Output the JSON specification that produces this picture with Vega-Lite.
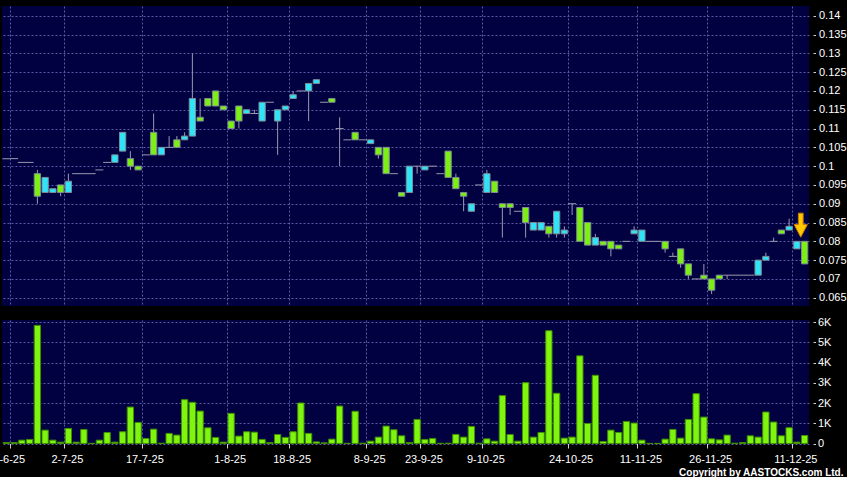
{
  "$schema": "https://vega.github.io/schema/vega-lite/v6.json",
  "background": "#000000",
  "padding": {"left": -14, "top": 6, "right": 0, "bottom": 0},
  "bounds": "flush",
  "spacing": 14,
  "config": {
    "view": {"fill": "#010142", "stroke": null},
    "axis": {
      "gridColor": "#5a5aa6",
      "gridDash": [2, 2],
      "gridWidth": 1,
      "labelColor": "#ffffff",
      "labelFont": "Liberation Sans",
      "labelFontSize": 11,
      "tickColor": "#d0d0d0",
      "domain": false,
      "labelOverlap": false
    }
  },
  "data": {
    "values": [
      {"d": "16-6-25", "o": 0.102, "h": 0.102, "l": 0.102, "c": 0.102, "v": 50},
      {"d": "17-6-25", "o": 0.102, "h": 0.102, "l": 0.102, "c": 0.102, "v": 50},
      {"d": "19-6-25", "o": 0.101, "h": 0.101, "l": 0.101, "c": 0.101, "v": 165},
      {"d": "20-6-25", "o": 0.101, "h": 0.101, "l": 0.101, "c": 0.101, "v": 200},
      {"d": "23-6-25", "o": 0.098, "h": 0.099, "l": 0.090, "c": 0.092, "v": 5835},
      {"d": "25-6-25", "o": 0.093, "h": 0.097, "l": 0.093, "c": 0.097, "v": 660},
      {"d": "26-6-25", "o": 0.093, "h": 0.094, "l": 0.093, "c": 0.094, "v": 165},
      {"d": "30-6-25", "o": 0.095, "h": 0.095, "l": 0.092, "c": 0.093, "v": 66},
      {"d": "2-7-25", "o": 0.093, "h": 0.098, "l": 0.093, "c": 0.096, "v": 745},
      {"d": "3-7-25", "o": 0.098, "h": 0.098, "l": 0.098, "c": 0.098, "v": 66},
      {"d": "4-7-25", "o": 0.098, "h": 0.098, "l": 0.098, "c": 0.098, "v": 695},
      {"d": "7-7-25", "o": 0.098, "h": 0.098, "l": 0.098, "c": 0.098, "v": 10},
      {"d": "8-7-25", "o": 0.099, "h": 0.099, "l": 0.099, "c": 0.099, "v": 165},
      {"d": "10-7-25", "o": 0.101, "h": 0.101, "l": 0.101, "c": 0.101, "v": 545},
      {"d": "11-7-25", "o": 0.101, "h": 0.103, "l": 0.101, "c": 0.103, "v": 66},
      {"d": "14-7-25", "o": 0.104, "h": 0.109, "l": 0.104, "c": 0.109, "v": 580},
      {"d": "15-7-25", "o": 0.102, "h": 0.104, "l": 0.099, "c": 0.100, "v": 1800},
      {"d": "16-7-25", "o": 0.100, "h": 0.100, "l": 0.099, "c": 0.099, "v": 1040},
      {"d": "17-7-25", "o": 0.103, "h": 0.103, "l": 0.103, "c": 0.103, "v": 250},
      {"d": "18-7-25", "o": 0.109, "h": 0.114, "l": 0.103, "c": 0.103, "v": 710},
      {"d": "21-7-25", "o": 0.103, "h": 0.105, "l": 0.103, "c": 0.105, "v": 15},
      {"d": "22-7-25", "o": 0.105, "h": 0.108, "l": 0.105, "c": 0.105, "v": 500},
      {"d": "23-7-25", "o": 0.107, "h": 0.108, "l": 0.105, "c": 0.105, "v": 415},
      {"d": "24-7-25", "o": 0.107, "h": 0.109, "l": 0.107, "c": 0.108, "v": 2165},
      {"d": "25-7-25", "o": 0.108, "h": 0.130, "l": 0.108, "c": 0.118, "v": 2035},
      {"d": "28-7-25", "o": 0.113, "h": 0.118, "l": 0.112, "c": 0.112, "v": 1600},
      {"d": "29-7-25", "o": 0.118, "h": 0.118, "l": 0.116, "c": 0.116, "v": 775},
      {"d": "30-7-25", "o": 0.120, "h": 0.120, "l": 0.116, "c": 0.116, "v": 300},
      {"d": "31-7-25", "o": 0.116, "h": 0.116, "l": 0.115, "c": 0.115, "v": 66},
      {"d": "1-8-25", "o": 0.112, "h": 0.112, "l": 0.110, "c": 0.110, "v": 1490},
      {"d": "4-8-25", "o": 0.116, "h": 0.116, "l": 0.110, "c": 0.112, "v": 365},
      {"d": "6-8-25", "o": 0.114, "h": 0.115, "l": 0.114, "c": 0.115, "v": 580},
      {"d": "8-8-25", "o": 0.114, "h": 0.115, "l": 0.114, "c": 0.114, "v": 560},
      {"d": "11-8-25", "o": 0.112, "h": 0.117, "l": 0.112, "c": 0.117, "v": 200},
      {"d": "12-8-25", "o": 0.117, "h": 0.117, "l": 0.117, "c": 0.117, "v": 50},
      {"d": "13-8-25", "o": 0.112, "h": 0.115, "l": 0.103, "c": 0.115, "v": 445},
      {"d": "15-8-25", "o": 0.115, "h": 0.116, "l": 0.115, "c": 0.116, "v": 300},
      {"d": "18-8-25", "o": 0.118, "h": 0.120, "l": 0.118, "c": 0.119, "v": 580},
      {"d": "19-8-25", "o": 0.120, "h": 0.120, "l": 0.120, "c": 0.120, "v": 2000},
      {"d": "20-8-25", "o": 0.120, "h": 0.122, "l": 0.112, "c": 0.122, "v": 500},
      {"d": "22-8-25", "o": 0.122, "h": 0.123, "l": 0.122, "c": 0.123, "v": 80},
      {"d": "25-8-25", "o": 0.117, "h": 0.117, "l": 0.117, "c": 0.117, "v": 33},
      {"d": "27-8-25", "o": 0.118, "h": 0.118, "l": 0.117, "c": 0.117, "v": 215},
      {"d": "28-8-25", "o": 0.110, "h": 0.113, "l": 0.100, "c": 0.110, "v": 1850},
      {"d": "1-9-25", "o": 0.107, "h": 0.107, "l": 0.107, "c": 0.107, "v": 10},
      {"d": "2-9-25", "o": 0.109, "h": 0.109, "l": 0.107, "c": 0.107, "v": 1590},
      {"d": "4-9-25", "o": 0.107, "h": 0.107, "l": 0.107, "c": 0.107, "v": 15},
      {"d": "8-9-25", "o": 0.106, "h": 0.107, "l": 0.106, "c": 0.107, "v": 115},
      {"d": "10-9-25", "o": 0.105, "h": 0.105, "l": 0.102, "c": 0.103, "v": 315},
      {"d": "11-9-25", "o": 0.105, "h": 0.105, "l": 0.098, "c": 0.098, "v": 860},
      {"d": "12-9-25", "o": 0.098, "h": 0.098, "l": 0.098, "c": 0.098, "v": 680},
      {"d": "16-9-25", "o": 0.093, "h": 0.093, "l": 0.092, "c": 0.092, "v": 380},
      {"d": "18-9-25", "o": 0.093, "h": 0.100, "l": 0.093, "c": 0.100, "v": 50},
      {"d": "19-9-25", "o": 0.100, "h": 0.100, "l": 0.098, "c": 0.100, "v": 1190},
      {"d": "23-9-25", "o": 0.099, "h": 0.100, "l": 0.099, "c": 0.100, "v": 200},
      {"d": "24-9-25", "o": 0.100, "h": 0.100, "l": 0.100, "c": 0.100, "v": 250},
      {"d": "26-9-25", "o": 0.098, "h": 0.098, "l": 0.098, "c": 0.098, "v": 10},
      {"d": "29-9-25", "o": 0.104, "h": 0.104, "l": 0.097, "c": 0.097, "v": 15},
      {"d": "30-9-25", "o": 0.097, "h": 0.098, "l": 0.094, "c": 0.094, "v": 450},
      {"d": "2-10-25", "o": 0.093, "h": 0.093, "l": 0.088, "c": 0.092, "v": 315},
      {"d": "3-10-25", "o": 0.088, "h": 0.090, "l": 0.088, "c": 0.090, "v": 845},
      {"d": "6-10-25", "o": 0.095, "h": 0.095, "l": 0.095, "c": 0.095, "v": 15},
      {"d": "9-10-25", "o": 0.093, "h": 0.099, "l": 0.093, "c": 0.098, "v": 230},
      {"d": "10-10-25", "o": 0.096, "h": 0.096, "l": 0.093, "c": 0.093, "v": 115},
      {"d": "13-10-25", "o": 0.090, "h": 0.090, "l": 0.081, "c": 0.089, "v": 2365},
      {"d": "14-10-25", "o": 0.090, "h": 0.090, "l": 0.087, "c": 0.089, "v": 445},
      {"d": "15-10-25", "o": 0.088, "h": 0.088, "l": 0.088, "c": 0.088, "v": 115},
      {"d": "16-10-25", "o": 0.089, "h": 0.089, "l": 0.081, "c": 0.085, "v": 3005},
      {"d": "17-10-25", "o": 0.083, "h": 0.085, "l": 0.083, "c": 0.085, "v": 315},
      {"d": "20-10-25", "o": 0.083, "h": 0.085, "l": 0.083, "c": 0.085, "v": 545},
      {"d": "21-10-25", "o": 0.084, "h": 0.084, "l": 0.081, "c": 0.082, "v": 5570},
      {"d": "22-10-25", "o": 0.082, "h": 0.088, "l": 0.081, "c": 0.088, "v": 2480},
      {"d": "23-10-25", "o": 0.082, "h": 0.084, "l": 0.081, "c": 0.083, "v": 265},
      {"d": "24-10-25", "o": 0.090, "h": 0.090, "l": 0.087, "c": 0.090, "v": 315},
      {"d": "27-10-25", "o": 0.089, "h": 0.089, "l": 0.080, "c": 0.080, "v": 4330},
      {"d": "28-10-25", "o": 0.085, "h": 0.085, "l": 0.079, "c": 0.079, "v": 990},
      {"d": "30-10-25", "o": 0.079, "h": 0.082, "l": 0.079, "c": 0.081, "v": 3370},
      {"d": "31-10-25", "o": 0.080, "h": 0.080, "l": 0.079, "c": 0.079, "v": 100},
      {"d": "3-11-25", "o": 0.080, "h": 0.080, "l": 0.076, "c": 0.078, "v": 660},
      {"d": "4-11-25", "o": 0.079, "h": 0.079, "l": 0.078, "c": 0.078, "v": 545},
      {"d": "5-11-25", "o": 0.080, "h": 0.080, "l": 0.080, "c": 0.080, "v": 1090},
      {"d": "6-11-25", "o": 0.082, "h": 0.084, "l": 0.082, "c": 0.083, "v": 1010},
      {"d": "11-11-25", "o": 0.080, "h": 0.083, "l": 0.080, "c": 0.083, "v": 165},
      {"d": "12-11-25", "o": 0.080, "h": 0.080, "l": 0.080, "c": 0.080, "v": 5},
      {"d": "14-11-25", "o": 0.080, "h": 0.080, "l": 0.080, "c": 0.080, "v": 5},
      {"d": "17-11-25", "o": 0.080, "h": 0.080, "l": 0.077, "c": 0.078, "v": 215},
      {"d": "18-11-25", "o": 0.076, "h": 0.077, "l": 0.076, "c": 0.076, "v": 695},
      {"d": "19-11-25", "o": 0.078, "h": 0.078, "l": 0.073, "c": 0.074, "v": 265},
      {"d": "20-11-25", "o": 0.074, "h": 0.074, "l": 0.070, "c": 0.071, "v": 1190},
      {"d": "21-11-25", "o": 0.070, "h": 0.070, "l": 0.070, "c": 0.070, "v": 2460},
      {"d": "24-11-25", "o": 0.071, "h": 0.074, "l": 0.070, "c": 0.070, "v": 1305},
      {"d": "26-11-25", "o": 0.070, "h": 0.070, "l": 0.066, "c": 0.067, "v": 230},
      {"d": "27-11-25", "o": 0.071, "h": 0.071, "l": 0.070, "c": 0.070, "v": 180},
      {"d": "28-11-25", "o": 0.071, "h": 0.071, "l": 0.070, "c": 0.071, "v": 415},
      {"d": "1-12-25", "o": 0.071, "h": 0.071, "l": 0.071, "c": 0.071, "v": 15},
      {"d": "2-12-25", "o": 0.071, "h": 0.071, "l": 0.071, "c": 0.071, "v": 50},
      {"d": "3-12-25", "o": 0.071, "h": 0.071, "l": 0.071, "c": 0.071, "v": 380},
      {"d": "4-12-25", "o": 0.071, "h": 0.075, "l": 0.071, "c": 0.075, "v": 315},
      {"d": "5-12-25", "o": 0.075, "h": 0.077, "l": 0.075, "c": 0.076, "v": 1555},
      {"d": "8-12-25", "o": 0.080, "h": 0.081, "l": 0.080, "c": 0.080, "v": 1060},
      {"d": "9-12-25", "o": 0.083, "h": 0.083, "l": 0.082, "c": 0.082, "v": 380},
      {"d": "10-12-25", "o": 0.083, "h": 0.086, "l": 0.083, "c": 0.084, "v": 780},
      {"d": "11-12-25", "o": 0.078, "h": 0.080, "l": 0.078, "c": 0.080, "v": 66},
      {"d": "12-12-25", "o": 0.080, "h": 0.080, "l": 0.074, "c": 0.074, "v": 395}
    ]
  },
  "vconcat": [
    {
      "width": 807,
      "height": 300,
      "encoding": {
        "x": {
          "field": "d", "type": "ordinal", "sort": null,
          "scale": {"type": "band", "paddingInner": 0, "paddingOuter": 0.065},
          "axis": {
            "values": ["17-6-25", "2-7-25", "17-7-25", "1-8-25", "18-8-25", "8-9-25", "23-9-25", "9-10-25", "24-10-25", "11-11-25", "26-11-25", "11-12-25"],
            "bandPosition": 0, "grid": true, "labels": false, "ticks": false, "title": null
          }
        }
      },
      "layer": [
        {
          "mark": {"type": "rule", "color": "#9a9aae", "strokeWidth": 1},
          "encoding": {
            "y": {
              "field": "l", "type": "quantitative",
              "scale": {"domain": [0.0628, 0.1426], "nice": false, "zero": false},
              "axis": {
                "orient": "right", "title": null, "grid": true, "labelOverlap": false, "tickCount": 40,
                "values": [0.065, 0.07, 0.075, 0.08, 0.085, 0.09, 0.095, 0.1, 0.105, 0.11, 0.115, 0.12, 0.125, 0.13, 0.135, 0.14],
                "labelExpr": "toString(round(datum.value * 1000) / 1000)",
                "offset": 4, "tickSize": 2.5, "labelPadding": 3
              }
            },
            "y2": {"field": "h"}
          }
        },
        {
          "mark": {"type": "bar", "size": 6.3, "stroke": "#7d8b95", "strokeWidth": 1},
          "encoding": {
            "y": {"field": "o", "type": "quantitative"},
            "y2": {"field": "c"},
            "fill": {"condition": {"test": "datum.c > datum.o", "value": "#30e4f8"}, "value": "#7cf014"},
            "opacity": {"condition": {"test": "datum.c == datum.o", "value": 0}, "value": 1}
          }
        },
        {
          "mark": {"type": "tick", "color": "#9a9aae", "thickness": 1, "size": 8},
          "encoding": {
            "y": {"field": "c", "type": "quantitative"},
            "opacity": {"condition": {"test": "datum.c != datum.o", "value": 0}, "value": 1}
          }
        },
        {
          "mark": {
            "type": "point", "filled": true, "fill": "#ffc800", "stroke": "#c87a00", "strokeWidth": 1, "size": 576,
            "shape": "M-0.2,-1L0.2,-1L0.2,-0.05L0.55,-0.05L0,1L-0.55,-0.05L-0.2,-0.05Z"
          },
          "encoding": {
            "x": {"field": "d", "type": "ordinal", "sort": null, "bandPosition": 1},
            "y": {"datum": 0.0843, "type": "quantitative"},
            "opacity": {"condition": {"test": "datum.d == '11-12-25'", "value": 1}, "value": 0}
          }
        }
      ]
    },
    {
      "width": 807,
      "height": 123.5,
      "mark": {"type": "bar", "size": 6.3, "fill": "#7ff50f", "stroke": "#3f8f00", "strokeWidth": 1},
      "encoding": {
        "x": {
          "field": "d", "type": "ordinal", "sort": null,
          "scale": {"type": "band", "paddingInner": 0, "paddingOuter": 0.065},
          "axis": {
            "values": ["17-6-25", "2-7-25", "17-7-25", "1-8-25", "18-8-25", "8-9-25", "23-9-25", "9-10-25", "24-10-25", "11-11-25", "26-11-25", "11-12-25"],
            "bandPosition": 0, "grid": true, "ticks": true, "tickSize": 4.5, "labelPadding": 5, "labelAngle": 0,
            "labelOffset": {"condition": {"test": "datum.value == '17-6-25'", "value": -8}, "value": -1},
            "title": "Copyright by AASTOCKS.com Ltd.",
            "titleFont": "Liberation Sans", "titleFontSize": 10, "titleFontWeight": "bold", "titleColor": "#ffffff",
            "titleAnchor": "end", "titleAlign": "right", "titleBaseline": "alphabetic", "titleX": 841, "titleY": 31.5
          }
        },
        "y": {
          "field": "v", "type": "quantitative",
          "scale": {"domain": [0, 6100], "nice": false},
          "axis": {
            "orient": "right", "title": null, "grid": true, "labelOverlap": false, "tickCount": 20,
            "values": [0, 1000, 2000, 3000, 4000, 5000, 6000],
            "labelExpr": "datum.value == 0 ? '0' : (datum.value / 1000) + 'K'",
            "offset": 4, "tickSize": 2.5, "labelPadding": 2
          }
        }
      }
    }
  ]
}
